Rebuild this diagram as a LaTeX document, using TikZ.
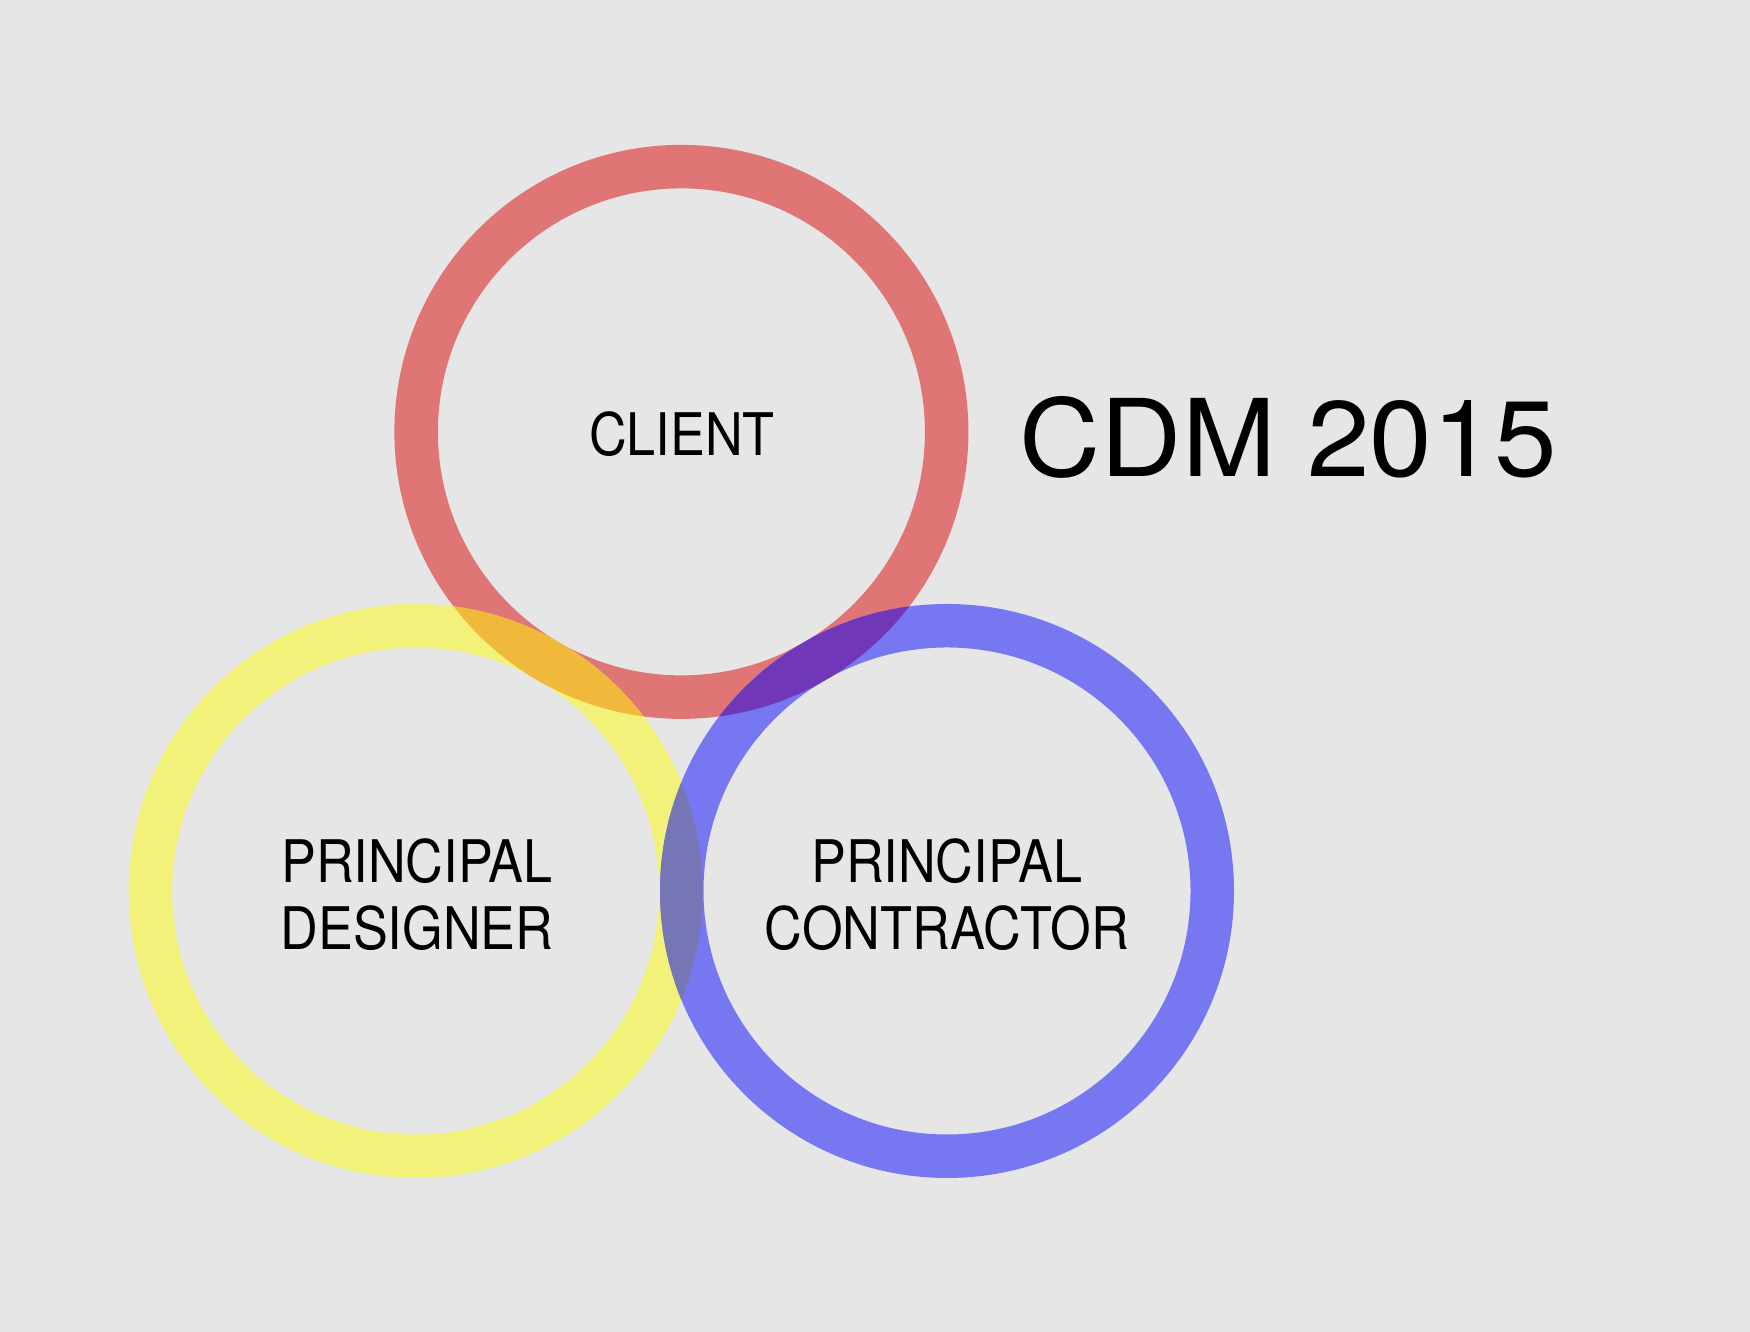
\documentclass[tikz,border=0pt]{standalone}
\usepackage{fontspec}
\newfontfamily\labelfont[FakeStretch=0.89]{TeX Gyre Heros}
\newfontfamily\titlefont[FakeStretch=1.05]{TeX Gyre Heros}
\definecolor{paper}{HTML}{E6E6E6}
\definecolor{ringred}{HTML}{E07575}
\definecolor{ringyellow}{HTML}{F2F27A}
\definecolor{ringblue}{HTML}{7777F2}
\definecolor{mixorange}{HTML}{F0B93C}
\definecolor{mixpurple}{HTML}{7137B9}
\definecolor{mixgrey}{HTML}{7676B6}
\tikzset{
  role/.style={font=\labelfont\fontsize{16.7}{19}\selectfont, align=center, inner sep=0pt},
  title/.style={font=\titlefont\fontsize{30.5}{34}\selectfont, inner sep=0pt, anchor=west}
}
\newcommand{\ring}[1]{(#1) circle (2.87) circle (2.435)}
\begin{document}
\begin{tikzpicture}
      \useasboundingbox (0,0) rectangle (17.5,13.32);
      \fill[paper] (0,0) rectangle (17.5,13.32);
      \coordinate (c) at (6.814,9.001);
      \coordinate (d) at (4.157,4.41);
      \coordinate (k) at (9.47,4.41);
      \fill[ringred, even odd rule] \ring{c};
      \fill[ringyellow, even odd rule] \ring{d};
      \fill[ringblue, even odd rule] \ring{k};
      \begin{scope}[even odd rule]
        \clip \ring{c};
        \fill[mixorange] \ring{d};
        \fill[mixpurple] \ring{k};
      \end{scope}
      \begin{scope}[even odd rule]
        \clip \ring{d};
        \fill[mixgrey] \ring{k};
      \end{scope}
      \node[role] (client) at (6.82,8.98) {CLIENT};
      \node[role] (designer) at (4.17,4.37) {PRINCIPAL\\DESIGNER};
      \node[role] (contractor) at (9.47,4.37) {PRINCIPAL\\CONTRACTOR};
      \node[title] (cdm) at (10.19,8.95) {CDM 2015};
    \end{tikzpicture}
\end{document}
